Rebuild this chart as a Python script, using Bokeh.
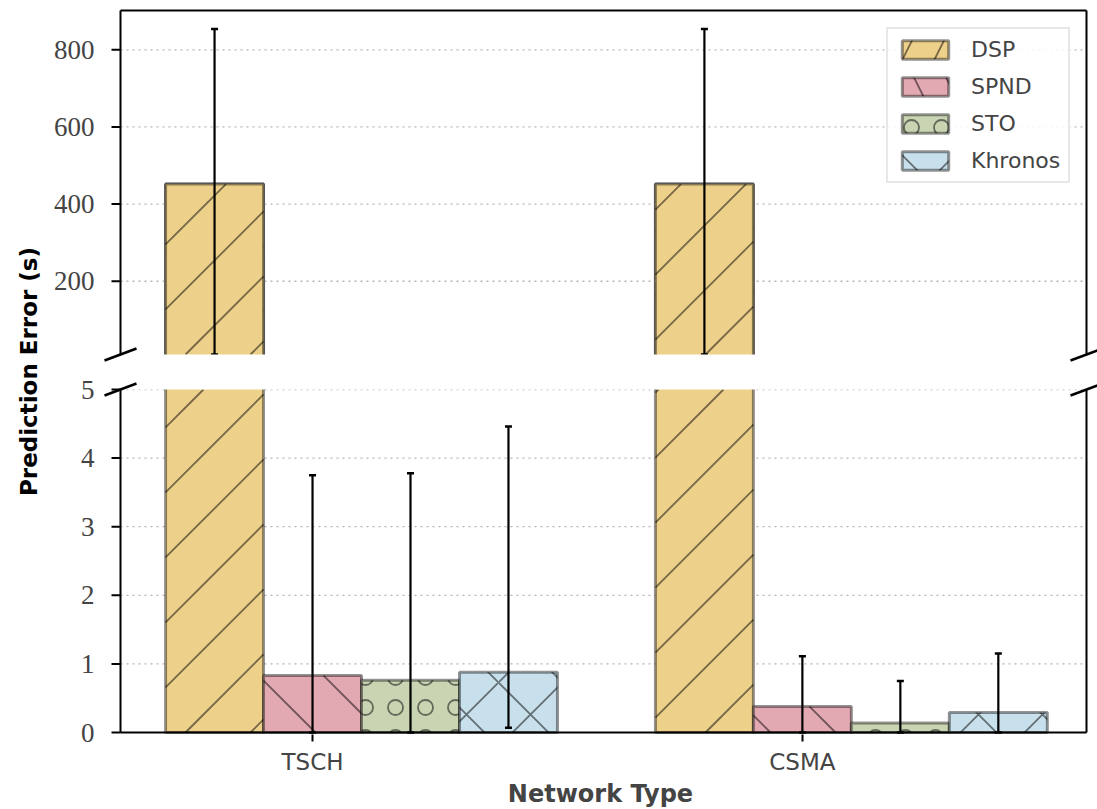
import math

from bokeh.core.properties import value
from bokeh.embed import file_html
from bokeh.layouts import column, row
from bokeh.models import ColumnDataSource, FixedTicker, Legend, LegendItem, LinearAxis, Range1d
from bokeh.plotting import figure
from bokeh.resources import INLINE

# ---- data -------------------------------------------------------------
networks = ["TSCH", "CSMA"]
methods = ["DSP", "SPND", "STO", "Khronos"]

dsp_mean = [452.0, 452.0]
dsp_low = [10.0, 10.0]
dsp_high = [854.0, 854.0]

spnd_mean = [0.83, 0.38]
spnd_low = [0.0, 0.0]
spnd_high = [3.75, 1.11]

sto_mean = [0.76, 0.14]
sto_low = [0.0, 0.0]
sto_high = [3.78, 0.75]

khronos_mean = [0.88, 0.29]
khronos_low = [0.07, 0.0]
khronos_high = [4.46, 1.15]

upper_ticks = [200, 400, 600, 800]
lower_ticks = [0, 1, 2, 3, 4, 5]

# ---- styling ----------------------------------------------------------
fills = ["#EDD08A", "#E3A9B3", "#C9D4B2", "#C8E0EC"]
hatches = ["/", "\\", "o", "x"]
hatch_scales = [64, 64, 30, 64]
bar_width = 0.2
offsets = [-0.2, 0.0, 0.2, 0.4]
HATCH_STEP = 65  # px between diagonal hatch lines

means = [dsp_mean, spnd_mean, sto_mean, khronos_mean]
lows = [dsp_low, spnd_low, sto_low, khronos_low]
highs = [dsp_high, spnd_high, sto_high, khronos_high]

X_RANGE = (-0.392, 1.58)
UPPER_RANGE = (10, 902)
LOWER_RANGE = (0, 5)

AX_W = 966            # width of the axes box (between the spines)
UPPER_H, LOWER_H = 344, 343
PAD_L, PAD_R = 18, 12  # room in the frame beside the spines for the break marks
LABEL_W = 50

sans = "DejaVu Sans"
BAR_STYLE = dict(line_color="black", line_alpha=0.42, line_width=3)
HATCH_STYLE = dict(hatch_color="black", hatch_alpha=0.5, hatch_weight=1.8)

KX = AX_W / (X_RANGE[1] - X_RANGE[0])


class Panel:
    def __init__(self, y_range, height, pad_top, pad_bottom, border_top, border_bottom):
        self.yr = y_range
        self.ky = height / (y_range[1] - y_range[0])
        self.p = figure(
            frame_width=AX_W + PAD_L + PAD_R, frame_height=height + pad_top + pad_bottom,
            x_range=Range1d(X_RANGE[0] - PAD_L / KX, X_RANGE[1] + PAD_R / KX),
            y_range=Range1d(y_range[0] - pad_bottom / self.ky, y_range[1] + pad_top / self.ky),
            x_axis_type=None, y_axis_type=None,
            output_backend="svg", toolbar_location=None,
            min_border_left=101 - LABEL_W, min_border_right=0,
            min_border_top=border_top, min_border_bottom=border_bottom)
        self.p.outline_line_color = None
        self.p.background_fill_color = "white"
        self.p.border_fill_color = "white"
        self.p.grid.visible = False
        # bars are cut a couple of pixels inside the blanked strip beyond the break
        self.bar_floor = max(0.0, y_range[0] - 2 / self.ky)
        self.bar_ceil = y_range[1] + 2 / self.ky

    def grid(self, ticks):
        n = len(ticks)
        self.p.segment(x0=[X_RANGE[0]] * n, x1=[X_RANGE[1]] * n, y0=ticks, y1=ticks,
                       line_color="#b5b5b5", line_dash="2 4", line_width=1.3)

    def diagonal_hatch(self, i, direction):
        """45-degree hatch lines clipped to the visible part of each bar."""
        seg = dict(x0=[], y0=[], x1=[], y1=[])
        y0r = self.yr[0]
        for k in range(len(networks)):
            a = k + offsets[i] - bar_width / 2
            b = a + bar_width
            lo = max(0.0, y0r)
            hi = min(means[i][k], self.yr[1])
            if hi <= lo:
                continue
            X0, X1 = (a - X_RANGE[0]) * KX, (b - X_RANGE[0]) * KX
            Y0, Y1 = (lo - y0r) * self.ky, (hi - y0r) * self.ky
            if direction > 0:
                cmin, cmax = Y0 - X1, Y1 - X0
            else:
                cmin, cmax = Y0 + X0, Y1 + X1
            n = math.floor(cmin / HATCH_STEP)
            while n * HATCH_STEP <= cmax:
                c = n * HATCH_STEP
                n += 1
                if direction > 0:
                    xs, xe = max(X0, Y0 - c), min(X1, Y1 - c)
                    ys, ye = xs + c, xe + c
                else:
                    xs, xe = max(X0, c - Y1), min(X1, c - Y0)
                    ys, ye = c - xs, c - xe
                if xe - xs < 1:
                    continue
                seg["x0"].append(xs / KX + X_RANGE[0])
                seg["x1"].append(xe / KX + X_RANGE[0])
                seg["y0"].append(ys / self.ky + y0r)
                seg["y1"].append(ye / self.ky + y0r)
        self.p.segment(x0="x0", y0="y0", x1="x1", y1="y1", source=ColumnDataSource(seg),
                       line_color="black", line_alpha=0.5, line_width=1.8)

    def series(self):
        sources = []
        for i, name in enumerate(methods):
            xs = [k + offsets[i] for k in range(len(networks))]
            tops = [min(v, self.bar_ceil) for v in means[i]]
            src = ColumnDataSource(dict(x=xs, top=tops))
            sources.append(src)
            if hatches[i] in ("/", "\\"):
                self.p.vbar(x="x", top="top", bottom=self.bar_floor, width=bar_width,
                            source=src, fill_color=fills[i], **BAR_STYLE)
                self.diagonal_hatch(i, 1 if hatches[i] == "/" else -1)
            else:
                self.p.vbar(x="x", top="top", bottom=self.bar_floor, width=bar_width,
                            source=src, fill_color=fills[i], hatch_pattern=hatches[i],
                            hatch_scale=hatch_scales[i], **HATCH_STYLE, **BAR_STYLE)
        # error bars on top of all the bars
        for i, name in enumerate(methods):
            xs = [k + offsets[i] for k in range(len(networks))]
            src = ColumnDataSource(dict(x=xs, lo=lows[i], hi=highs[i]))
            self.p.segment(x0="x", y0="lo", x1="x", y1="hi", source=src,
                           line_color="black", line_width=2.2)
            for key in ("lo", "hi"):
                self.p.rect(x="x", y=key, width=7, height=2.5, width_units="screen",
                            height_units="screen", source=src, fill_color="black",
                            line_color=None)
        return sources

    def mask(self, y_from, y_to):
        # blank out whatever lies beyond the cut of the broken axis
        self.p.quad(left=self.p.x_range.start - 1, right=self.p.x_range.end + 1,
                    bottom=y_from, top=y_to, fill_color="white", line_color=None)

    def spines(self, top_edge, bottom_edge):
        lo, hi = self.yr
        self.p.segment(x0=list(X_RANGE), x1=list(X_RANGE), y0=[lo, lo], y1=[hi, hi],
                       line_color="black", line_width=2)
        if top_edge:
            self.p.segment(x0=[X_RANGE[0]], x1=[X_RANGE[1]], y0=[hi], y1=[hi],
                           line_color="black", line_width=2)
        if bottom_edge:
            self.p.segment(x0=[X_RANGE[0]], x1=[X_RANGE[1]], y0=[lo], y1=[lo],
                           line_color="black", line_width=2)

    def left_ticks(self, ticks):
        n = len(ticks)
        self.p.segment(x0=[X_RANGE[0] - 9 / KX] * n, x1=[X_RANGE[0]] * n, y0=ticks, y1=ticks,
                       line_color="black", line_width=2)
        ax = LinearAxis(ticker=FixedTicker(ticks=ticks))
        ax.axis_line_color = None
        ax.major_tick_line_color = None
        ax.minor_tick_line_color = None
        ax.major_label_standoff = 2
        ax.major_label_text_font = "Liberation Serif"
        ax.major_label_text_font_size = "27px"
        self.p.add_layout(ax, "left")

    def break_marks(self, y):
        dx, dy = 16 / KX, 6 / self.ky
        self.p.segment(x0=[x - dx for x in X_RANGE], x1=[x + dx for x in X_RANGE],
                       y0=[y - dy] * 2, y1=[y + dy] * 2,
                       line_color="black", line_width=2.6)


# ---- upper panel (large values) ----------------------------------------
up = Panel(UPPER_RANGE, UPPER_H, pad_top=4, pad_bottom=8, border_top=6, border_bottom=0)
up.grid(upper_ticks)
up_sources = up.series()

# legend swatches: same bars with the built-in hatch, drawn underneath everything
legend_items = []
for i, name in enumerate(methods):
    swatch = up.p.vbar(x="x", top="top", bottom=up.bar_floor, width=bar_width,
                       source=up_sources[i], fill_color=fills[i],
                       hatch_pattern=hatches[i], hatch_scale=hatch_scales[i],
                       level="image", **HATCH_STYLE, **BAR_STYLE)
    legend_items.append(LegendItem(label=name, renderers=[swatch]))

up.mask(up.p.y_range.start - 50, UPPER_RANGE[0])
up.spines(top_edge=True, bottom_edge=False)
up.left_ticks(upper_ticks)
up.break_marks(UPPER_RANGE[0])

legend = Legend(items=legend_items, location=(784, 179))
legend.label_text_font = sans
legend.label_text_font_size = "22px"
legend.glyph_width = 58
legend.glyph_height = 23
legend.label_standoff = 17
legend.spacing = 12
legend.padding = 8
legend.margin = 0
legend.border_line_color = "#cfcfcf"
legend.border_line_width = 2
legend.background_fill_alpha = 0.85
up.p.add_layout(legend)

# ---- lower panel (small values) ----------------------------------------
low = Panel(LOWER_RANGE, LOWER_H, pad_top=8, pad_bottom=2, border_top=19, border_bottom=75)
low.grid(lower_ticks[1:])
low.series()
low.mask(LOWER_RANGE[1], low.p.y_range.end + 1)
low.spines(top_edge=False, bottom_edge=True)
low.left_ticks(lower_ticks)
low.break_marks(LOWER_RANGE[1])

below = LinearAxis(ticker=FixedTicker(ticks=list(range(len(networks)))))
below.major_label_overrides = {k: n for k, n in enumerate(networks)}
below.axis_line_color = None
below.major_tick_line_width = 2
below.major_tick_in = 0
below.major_tick_out = 7
below.minor_tick_line_color = None
below.major_label_text_font = sans
below.major_label_text_font_size = "23px"
below.major_label_standoff = 7
below.axis_label = "Network Type"
below.axis_label_text_font = sans
below.axis_label_text_font_style = "bold"
below.axis_label_text_font_size = "24px"
below.axis_label_standoff = 2
low.p.add_layout(below, "below")

# ---- shared y-axis title -----------------------------------------------
title_fig = figure(frame_width=LABEL_W, frame_height=809,
                   x_range=Range1d(0, 1), y_range=Range1d(0, 809),
                   x_axis_type=None, y_axis_type=None,
                   output_backend="svg", toolbar_location=None,
                   min_border=0)
title_fig.outline_line_color = None
title_fig.grid.visible = False
title_fig.text(x=[28 / LABEL_W], y=[809 - 371], text=["Prediction Error (s)"],
               angle=math.pi / 2, text_align="center", text_baseline="middle",
               text_font=value(sans), text_font_style="bold",
               text_font_size="23px", text_color="black")

layout = row(title_fig, column(up.p, low.p, spacing=0), spacing=0)

open("out.html", "w").write(file_html(layout, INLINE))
